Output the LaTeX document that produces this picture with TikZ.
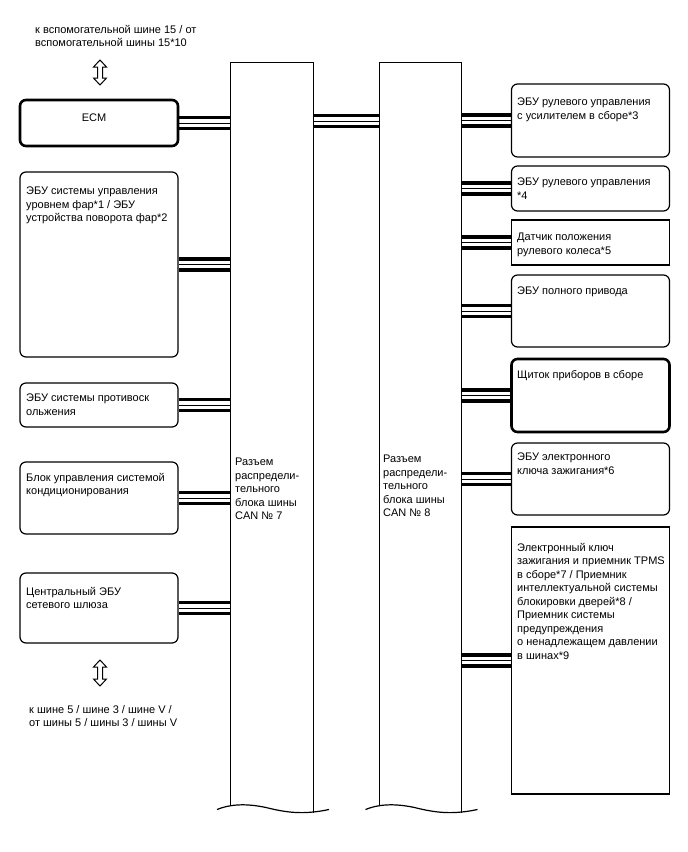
\documentclass[tikz,border=0pt]{standalone}
\usepackage{fontspec}
\setmainfont{Liberation Sans}
\usetikzlibrary{backgrounds}

\begin{document}
\begin{tikzpicture}[x=1pt,y=-1pt,
  txt/.style={anchor=north west,inner sep=0pt,align=left,font=\fontsize{11}{13.5}\selectfont},
  ecu/.style={draw,line width=1.2pt,rounded corners=6pt,inner sep=0pt,minimum width=158pt},
  ecuthick/.style={ecu,line width=2.6pt},
  sensor/.style={draw,line width=1.2pt,inner sep=0pt,minimum width=158pt},
  bar/.style={inner sep=0pt,minimum width=82pt,minimum height=742pt},
  barline/.style={line width=1.2pt},
  bus/.style={line width=14.5pt,postaction={draw,white,line width=7.5pt},
              postaction={draw,black,line width=0.9pt}},
  hollow/.style={line width=1pt,line join=miter}]
  \useasboundingbox (0,0) rectangle (688,852);

  \node[bar] (can7) at (272,434) {};
  \node[bar] (can8) at (420.5,434) {};
  \draw[barline] (can7.south west) -- (can7.north west) -- (can7.north east) -- ([yshift=-8pt]can7.south east);
  \draw[barline] (can8.south west) -- (can8.north west) -- (can8.north east) -- ([yshift=-8pt]can8.south east);
  \draw[barline] (217,809.5) .. controls (229,804.5) and (245,803) .. (266,807.5)
       .. controls (286,812.5) and (303,815) .. (329,809.5);
  \draw[barline] (365.5,809.5) .. controls (377.5,804.5) and (393.5,803) .. (414.5,807.5)
       .. controls (434.5,812.5) and (451.5,815) .. (477.5,809.5);
  \node[txt] (can7-t) at (235,458) {Разъем\\распредели-\\тельного\\блока шины\\CAN № 7};
  \node[txt] (can8-t) at (383,455) {Разъем\\распредели-\\тельного\\блока шины\\CAN № 8};

  \node[ecuthick,minimum height=46pt] (ecm) at (99,123) {};
  \node[ecu,minimum height=185pt] (hl) at (99,264.5) {};
  \node[ecu,minimum height=44pt] (abs) at (99,405) {};
  \node[ecu,minimum height=72pt] (ac) at (99,498) {};
  \node[ecu,minimum height=70pt] (gw) at (99,608) {};

  \node[ecu,minimum height=73pt] (eps) at (590.5,120.5) {};
  \node[ecu,minimum height=45pt] (str) at (590.5,188.5) {};
  \node[sensor,minimum height=45pt] (sas) at (590.5,242.5) {};
  \node[ecu,minimum height=72pt] (awd) at (590.5,311) {};
  \node[ecuthick,minimum height=73pt] (meter) at (590.5,395.5) {};
  \node[ecu,minimum height=72pt] (key) at (590.5,479) {};
  \node[sensor,minimum height=267pt] (tpms) at (590.5,660.5) {};

  \node[txt,anchor=center] (ecm-t) at (94,117.5) {ECM};
  \node[txt] (hl-t) at (26,187) {ЭБУ системы управления\\уровнем фар*1 / ЭБУ\\устройства поворота фар*2};
  \node[txt] (abs-t) at (26,394) {ЭБУ системы противоск\\ольжения};
  \node[txt] (ac-t) at (26,473) {Блок управления системой\\кондиционирования};
  \node[txt] (gw-t) at (26,587) {Центральный ЭБУ\\сетевого шлюза};

  \node[txt] (eps-t) at (517,98) {ЭБУ рулевого управления\\с усилителем в сборе*3};
  \node[txt] (str-t) at (517,178) {ЭБУ рулевого управления\\*4};
  \node[txt] (sas-t) at (517,233) {Датчик положения\\рулевого колеса*5};
  \node[txt] (awd-t) at (517,287) {ЭБУ полного привода};
  \node[txt] (meter-t) at (517,370) {Щиток приборов в сборе};
  \node[txt] (key-t) at (517,453) {ЭБУ электронного\\ключа зажигания*6};
  \node[txt] (tpms-t) at (517,543) {Электронный ключ\\зажигания и приемник TPMS\\в сборе*7 / Приемник\\интеллектуальной системы\\блокировки дверей*8 /\\Приемник системы\\предупреждения\\о ненадлежащем давлении\\в шинах*9};

  \node[txt] (sub15) at (35,25) {к вспомогательной шине 15 / от\\вспомогательной шины 15*10};
  \node[txt] (bus5) at (29,705) {к шине 5 / шине 3 / шине V /\\от шины 5 / шины 3 / шины V};
  \draw[hollow] (100,60) -- (106.5,67) -- (102.5,67) -- (102.5,78) -- (106.5,78) -- (100,85)
       -- (93.5,78) -- (97.5,78) -- (97.5,67) -- (93.5,67) -- cycle;
  \draw[hollow] (100,660) -- (106.5,667) -- (102.5,667) -- (102.5,679) -- (106.5,679) -- (100,686)
       -- (93.5,679) -- (97.5,679) -- (97.5,667) -- (93.5,667) -- cycle;

  \coordinate (link) at (346,121);
  \begin{scope}[on background layer]
    \draw[bus] (ecm.east) -- (ecm.east -| can7.west);
    \draw[bus] (hl.east) -- (hl.east -| can7.west);
    \draw[bus] (abs.east) -- (abs.east -| can7.west);
    \draw[bus] (ac.east) -- (ac.east -| can7.west);
    \draw[bus] (gw.east) -- (gw.east -| can7.west);
    \draw[bus] (link -| can7.east) -- (link -| can8.west);
    \draw[bus] (eps.west) -- (eps.west -| can8.east);
    \draw[bus] (str.west) -- (str.west -| can8.east);
    \draw[bus] (sas.west) -- (sas.west -| can8.east);
    \draw[bus] (awd.west) -- (awd.west -| can8.east);
    \draw[bus] (meter.west) -- (meter.west -| can8.east);
    \draw[bus] (key.west) -- (key.west -| can8.east);
    \draw[bus] (tpms.west) -- (tpms.west -| can8.east);
  \end{scope}
\end{tikzpicture}
\end{document}
